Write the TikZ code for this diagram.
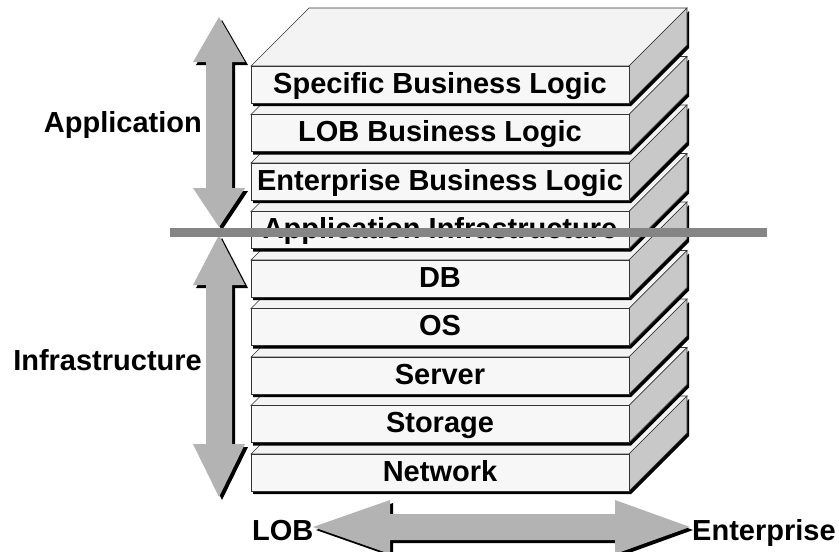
\documentclass[tikz,border=0pt]{standalone}
\usepackage{fontspec}
\setmainfont{Liberation Sans}
\usepackage{tikz}
\usepackage{xcolor}
\usetikzlibrary{calc}
\definecolor{slabfront}{HTML}{F7F7F7}
\definecolor{slabtop}{HTML}{F3F3F3}
\definecolor{slabside}{HTML}{C8C8C8}
\definecolor{arrowgray}{HTML}{B3B3B3}
\definecolor{cutgray}{HTML}{858585}

\begin{document}
\begin{tikzpicture}[x=1pt, y=-1pt,
    face/.style={draw=black!80, line width=0.6pt, line join=miter},
    layertext/.style={font=\fontsize{29}{32}\selectfont\bfseries, anchor=base, inner sep=0pt},
    sidelabel/.style={font=\fontsize{29}{32}\selectfont\bfseries, inner sep=0pt}]
    \useasboundingbox (0,0) rectangle (839,552);

    % Layer stack, bottom slab first so the upper ones cover it
    \foreach \lbl [count=\k from 0] in {Network, Storage, Server, OS, DB,
        Application Infrastructure, Enterprise Business Logic,
        LOB Business Logic, Specific Business Logic} {
        \pgfmathsetmacro\ytop{454-48.5*\k}
        \fill[black, shift={(2,3)}] (251,\ytop) -- (629,\ytop) -- (687,\ytop-58)
            -- (687,\ytop-21) -- (629,\ytop+37) -- (251,\ytop+37) -- cycle;
        \filldraw[face, fill=slabtop] (251,\ytop) -- (309,\ytop-58) -- (687,\ytop-58) -- (629,\ytop) -- cycle;
        \filldraw[face, fill=slabside] (629,\ytop) -- (687,\ytop-58) -- (687,\ytop-21) -- (629,\ytop+37) -- cycle;
        \filldraw[face, fill=slabfront] (251,\ytop) rectangle (629,\ytop+37);
        \node[layertext] (slab\k) at (440,\ytop+27) {\lbl};
    }

    % Application / Infrastructure arrows (shadow first)
    \foreach \s/\c in {3/black, 0/arrowgray} {
        \fill[\c, shift={(\s,\s)}] (219,17) -- (245,62) -- (232,62) -- (232,188) -- (245,188)
            -- (219,227) -- (193,188) -- (206,188) -- (206,62) -- (193,62) -- cycle;
        \fill[\c, shift={(\s,\s)}] (219,235) -- (245,285) -- (232,285) -- (232,444) -- (245,444)
            -- (219,497) -- (193,444) -- (206,444) -- (206,285) -- (193,285) -- cycle;
        % LOB -- Enterprise arrow
        \fill[\c, shift={(\s,\s)}] (313,527) -- (390,500) -- (390,514) -- (615,514) -- (615,500)
            -- (690,527) -- (615,554) -- (615,540) -- (390,540) -- (390,554) -- cycle;
    }

    \node[sidelabel, anchor=base east] (app) at (202,132) {Application};
    \node[sidelabel, anchor=base east] (infra) at (202,370) {Infrastructure};
    \node[sidelabel, anchor=base west] (lob) at (252,540) {LOB};
    \node[sidelabel, anchor=base west] (ent) at (692,540) {Enterprise};

    % Divider between application and infrastructure
    \coordinate (cutL) at (170,232);
    \coordinate (cutR) at (767,232);
    \draw[cutgray, line width=9pt] (cutL) -- (cutR);
\end{tikzpicture}
\end{document}
